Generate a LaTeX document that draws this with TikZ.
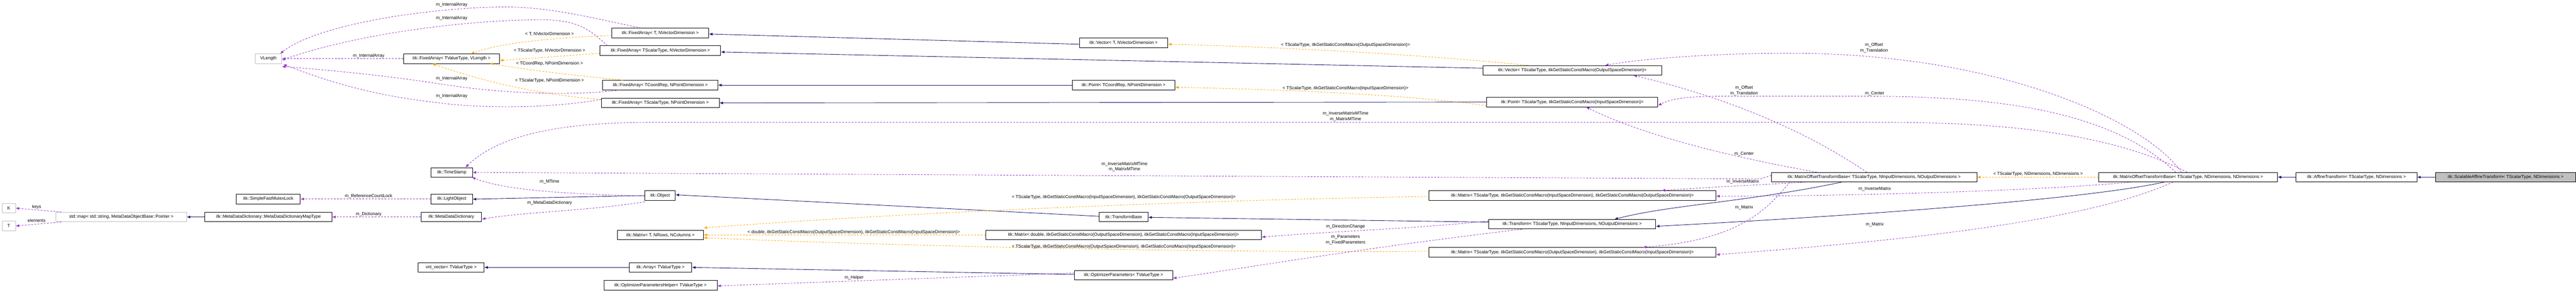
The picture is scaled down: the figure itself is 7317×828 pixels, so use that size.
\documentclass[tikz,border=0pt]{standalone}
\usepackage{fontspec}
\setmainfont{Liberation Sans}
\usetikzlibrary{arrows.meta}
\definecolor{navy}{HTML}{191970}
\definecolor{purp}{HTML}{9A32CD}
\definecolor{orng}{HTML}{FFA500}
\definecolor{gbrd}{HTML}{BFBFBF}
\begin{document}
\begin{tikzpicture}[x=1pt,y=-1pt,font=\fontsize{12.5}{14}\selectfont,
  box/.style={draw=black,line width=1.2pt,fill=white,rectangle,minimum height=27pt,inner sep=0pt},
  gbox/.style={box,draw=gbrd},
  inh/.style={draw=navy,line width=1.3pt,-{Latex[length=10pt,width=8pt]}},
  tpl/.style={draw=orng,line width=1.2pt,dashed,dash pattern=on 5pt off 4pt,-{Latex[length=10pt,width=8pt]}},
  use/.style={draw=purp,line width=1.2pt,dash pattern=on 5pt off 4pt,-{Latex[length=10pt,width=8pt]}},
  lab/.style={align=center,inner sep=0pt,font=\fontsize{12.5}{16}\selectfont}]
\useasboundingbox[fill=white] (0,0) rectangle (7317,828);
% nodes
\node[gbox,minimum width=75] (VL) at (762.5,166.5) {VLength};
\node[box,minimum width=273] (FATV) at (1282.5,166.5) {itk::FixedArray< TValueType, VLength >};
\node[box,minimum width=275] (FA1) at (1875.5,93.5) {itk::FixedArray< T, NVectorDimension >};
\node[box,minimum width=343] (FA2) at (1875.5,143.5) {itk::FixedArray< TScalarType, NVectorDimension >};
\node[box,minimum width=327] (FA3) at (1875.5,241.5) {itk::FixedArray< TCoordRep, NPointDimension >};
\node[box,minimum width=335] (FA4) at (1875.5,292) {itk::FixedArray< TScalarType, NPointDimension >};
\node[box,minimum width=251] (VT) at (3191.5,121.5) {itk::Vector< T, NVectorDimension >};
\node[box,minimum width=291] (PT) at (3191.5,241.5) {itk::Point< TCoordRep, NPointDimension >};
\node[box,minimum width=508] (VO) at (4466,199.5) {itk::Vector< TScalarType, itkGetStaticConstMacro(OutputSpaceDimension)>};
\node[box,minimum width=486] (PI) at (4466,289.5) {itk::Point< TScalarType, itkGetStaticConstMacro(InputSpaceDimension)>};
\node[box,minimum width=118] (TS) at (1283,489) {itk::TimeStamp};
\node[box,minimum width=118] (LO) at (1283,564.5) {itk::LightObject};
\node[box,minimum width=172] (MDD) at (1282,615.5) {itk::MetaDataDictionary};
\node[box,minimum width=187] (VNL) at (1281.5,758.5) {vnl\_vector< TValueType >};
\node[box,minimum width=182] (SFML) at (762,564.5) {itk::SimpleFastMutexLock};
\node[box,minimum width=361] (MT) at (762.5,615.5) {itk::MetaDataDictionary::MetaDataDictionaryMapType};
\node[gbox,minimum width=371] (SM) at (344.5,615.5) {std::map< std::string, MetaDataObjectBase::Pointer >};
\node[gbox,minimum width=38] (K) at (25,590.5) {K};
\node[gbox,minimum width=38] (T) at (25,641) {T};
\node[box,minimum width=86] (OB) at (1875,554.5) {itk::Object};
\node[box,minimum width=244] (MX) at (1876,666.5) {itk::Matrix< T, NRows, NColumns >};
\node[box,minimum width=178] (AR) at (1876,758.5) {itk::Array< TValueType >};
\node[box,minimum width=322] (OPH) at (1876,809) {itk::OptimizerParametersHelper< TValueType >};
\node[box,minimum width=139] (TB) at (3191.5,615.5) {itk::TransformBase};
\node[box,minimum width=783] (MD) at (3191.5,666.5) {itk::Matrix< double, itkGetStaticConstMacro(OutputSpaceDimension), itkGetStaticConstMacro(InputSpaceDimension)>};
\node[box,minimum width=279] (OP) at (3191.5,780.5) {itk::OptimizerParameters< TValueType >};
\node[box,minimum width=815] (MIO) at (4466.5,554.5) {itk::Matrix< TScalarType, itkGetStaticConstMacro(InputSpaceDimension), itkGetStaticConstMacro(OutputSpaceDimension)>};
\node[box,minimum width=475] (TR) at (4465.5,636) {itk::Transform< TScalarType, NInputDimensions, NOutputDimensions >};
\node[box,minimum width=815] (MOI) at (4466.5,715.5) {itk::Matrix< TScalarType, itkGetStaticConstMacro(OutputSpaceDimension), itkGetStaticConstMacro(InputSpaceDimension)>};
\node[box,minimum width=583] (M1) at (5323.5,502.5) {itk::MatrixOffsetTransformBase< TScalarType, NInputDimensions, NOutputDimensions >};
\node[box,minimum width=508] (M2) at (6215,502.5) {itk::MatrixOffsetTransformBase< TScalarType, NDimensions, NDimensions >};
\node[box,minimum width=343] (AF) at (6693.5,502.5) {itk::AffineTransform< TScalarType, NDimensions >};
\node[box,minimum width=397,fill=gbrd] (SC) at (7117,502.5) {itk::ScalableAffineTransform< TScalarType, NDimensions >};
% inheritance
\draw[inh] (MT.west) -- (SM.east);
\draw[inh] (OB.west) -- ([yshift=-0.5pt]LO.east);
\draw[inh] (AR.west) -- (VNL.east);
\draw[inh] ([yshift=2pt]TB.west) -- ([yshift=2pt]OB.east);
\draw[inh] ([yshift=6pt]TR.west) -- ([yshift=-1pt]TB.east);
\draw[inh] ([yshift=2pt]OP.west) -- (AR.east);
\draw[inh] ([yshift=-4pt]VT.west) -- ([yshift=-3pt]FA1.east);
\draw[inh] ([yshift=6pt]VO.west) -- ([yshift=-4pt]FA2.east);
\draw[inh] (PT.west) -- (FA3.east);
\draw[inh] (PI.west) -- (FA4.east);
\draw[inh] ([xshift=200pt]M1.south west) .. controls (4950,575) and (4750,580) .. ([xshift=120pt]TR.north);
\draw[inh] ([xshift=-68pt]M2.south) .. controls (5950,560) and (5400,605) .. ([yshift=-6pt]TR.east);
\draw[inh] (AF.west) -- (M2.east);
\draw[inh] (SC.west) -- (AF.east);
% templates
\draw[tpl] ([yshift=-7pt]FA1.west) .. controls (1500,110) and (1400,130) .. ([xshift=55pt]FATV.north);
\draw[tpl] ([yshift=-8pt]FA2.west) -- ([yshift=-5pt]FATV.east);
\draw[tpl] ([xshift=58pt]FA3.north west) .. controls (1650,215) and (1500,200) .. ([xshift=-28pt,yshift=1pt]FATV.south east);
\draw[tpl] ([yshift=10pt]FA4.west) .. controls (1550,270) and (1400,240) .. ([xshift=-55pt]FATV.south);
\node[lab] at (1561,97) {< T, NVectorDimension >};
\node[lab] at (1561,144) {< TScalarType, NVectorDimension >};
\node[lab] at (1561,181) {< TCoordRep, NPointDimension >};
\node[lab] at (1561,229) {< TScalarType, NPointDimension >};
\draw[tpl] ([xshift=-126pt]VO.north) .. controls (4100,160) and (3700,135) .. ([yshift=-4pt]VT.east);
\node[lab] at (3822,128) {< TScalarType, itkGetStaticConstMacro(OutputSpaceDimension)>};
\draw[tpl] ([yshift=-10pt]PI.west) .. controls (4000,270) and (3700,255) .. ([yshift=-6pt]PT.east);
\node[lab] at (3822,250) {< TScalarType, itkGetStaticConstMacro(InputSpaceDimension)>};
\draw[tpl] ([yshift=-3pt]MIO.west) .. controls (3500,565) and (2600,600) .. ([yshift=6pt]MX.north east);
\node[lab] at (3192,559) {< TScalarType, itkGetStaticConstMacro(InputSpaceDimension), itkGetStaticConstMacro(OutputSpaceDimension)>};
\draw[tpl] (MD.west) -- (MX.east);
\node[lab] at (2425,659) {< double, itkGetStaticConstMacro(OutputSpaceDimension), itkGetStaticConstMacro(InputSpaceDimension)>};
\draw[tpl] ([yshift=3pt]MOI.west) .. controls (3500,718) and (2600,700) .. ([yshift=-8pt]MX.east);
\node[lab] at (3192,700) {< TScalarType, itkGetStaticConstMacro(OutputSpaceDimension), itkGetStaticConstMacro(InputSpaceDimension)>};
\draw[tpl] (M2.west) -- (M1.east);
\node[lab] at (5789,494) {< TScalarType, NDimensions, NDimensions >};
% usage
\draw[use] (FATV.west) -- (VL.east);
\node[lab] at (1047,159) {m\_InternalArray};
\draw[use] ([xshift=-55pt]FA1.north) .. controls (1700,55) and (1550,15) .. (1410,20) .. controls (1200,25) and (900,70) .. ([xshift=-5pt]VL.north east);
\node[lab] at (1283,13) {m\_InternalArray};
\draw[use] ([xshift=22pt]FA2.north west) .. controls (1680,90) and (1650,55) .. (1530,56) .. controls (1300,58) and (1000,100) .. ([yshift=-4pt]VL.east);
\node[lab] at (1283,52) {m\_InternalArray};
\draw[use] ([xshift=48pt]FA3.south west) .. controls (1650,270) and (1450,270) .. (1250,238) .. controls (1100,215) and (950,200) .. ([yshift=-8pt]VL.south east);
\node[lab] at (1283,223) {m\_InternalArray};
\draw[use] ([yshift=10pt]FA4.west) .. controls (1550,310) and (1350,306) .. (1250,292) .. controls (1050,270) and (930,230) .. ([xshift=4pt,yshift=-2pt]VL.south east);
\node[lab] at (1283,273) {m\_InternalArray};
\draw[use] ([xshift=16pt]SM.north west) -- (K.east);
\node[lab] at (104,587) {keys};
\draw[use] ([xshift=16pt]SM.south west) -- (T.east);
\node[lab] at (104,625) {elements};
\draw[use] (LO.west) -- (SFML.east);
\node[lab] at (1047,557) {m\_ReferenceCountLock};
\draw[use] (MDD.west) -- (MT.east);
\node[lab] at (1047,608) {m\_Dictionary};
\draw[use] ([yshift=-2pt]OB.west) .. controls (1650,550) and (1450,545) .. ([xshift=-2pt]TS.south east);
\node[lab] at (1561,516) {m\_MTime};
\draw[use] ([yshift=-4pt]OB.south west) .. controls (1650,600) and (1500,600) .. ([yshift=-6pt]MDD.east);
\node[lab] at (1561,576) {m\_MetaDataDictionary};
\draw[use] ([yshift=5pt]M1.west) -- ([yshift=-5pt]M1.west -| 5000,0) -- (TS.east);
\node[lab] at (3194,473) {m\_InverseMatrixMTime\\m\_MatrixMTime};
\draw[use] ([xshift=-3pt]M2.north) .. controls (6000,380) and (5700,347) .. (5360,347) -- (1850,347) .. controls (1600,347) and (1420,380) .. ([xshift=39pt]TS.north);
\node[lab] at (3822,331) {m\_InverseMatrixMTime\\m\_MatrixMTime};
\draw[use] ([yshift=9pt]TR.west) .. controls (4000,650) and (3800,655) .. ([yshift=-6pt]MD.east);
\node[lab] at (3822,643) {m\_DirectionChange};
\draw[use] ([xshift=96pt]TR.south west) .. controls (3900,700) and (3600,750) .. ([yshift=-9pt]OP.east);
\node[lab] at (3822,681) {m\_Parameters\\m\_FixedParameters};
\draw[use] ([yshift=6pt]OP.west) -- ([yshift=-2pt]OPH.east);
\node[lab] at (2426,787) {m\_Helper};
\draw[use] ([xshift=-19pt]M2.north) .. controls (6100,350) and (5700,155) .. (5100,151) .. controls (4950,150) and (4700,160) .. ([xshift=93pt]VO.north);
\node[lab] at (5323,136) {m\_Offset\\m\_Translation};
\draw[use] ([xshift=-35pt]M2.north) .. controls (6000,320) and (5700,273) .. (5300,273) -- (4900,273) .. controls (4800,273) and (4750,278) .. ([yshift=-10pt]PI.east);
\node[lab] at (5325,265) {m\_Center};
\draw[use] ([xshift=-21pt]M1.north) .. controls (5200,420) and (5000,300) .. ([xshift=-81pt]VO.south east);
\node[lab] at (4954,257) {m\_Offset\\m\_Translation};
\draw[use] ([xshift=-163pt]M1.north) .. controls (5000,460) and (4700,400) .. ([xshift=39pt]PI.south);
\node[lab] at (4954,436) {m\_Center};
\draw[use] ([xshift=96pt]M1.south west) .. controls (5050,522) and (4900,528) .. ([xshift=-155pt]MIO.north east);
\node[lab] at (4950,516) {m\_InverseMatrix};
\draw[use] ([xshift=-160pt]M2.south) .. controls (5800,540) and (5300,556) .. ([yshift=-2pt]MIO.east);
\node[lab] at (5325,536) {m\_InverseMatrix};
\draw[use] ([xshift=53pt]M1.south west) .. controls (5020,590) and (4950,680) .. ([xshift=200pt]MOI.north);
\node[lab] at (4954,589) {m\_Matrix};
\draw[use] ([xshift=-43pt]M2.south) .. controls (5900,640) and (5300,690) .. ([yshift=-7pt]MOI.east);
\node[lab] at (5325,637) {m\_Matrix};
\end{tikzpicture}
\end{document}
